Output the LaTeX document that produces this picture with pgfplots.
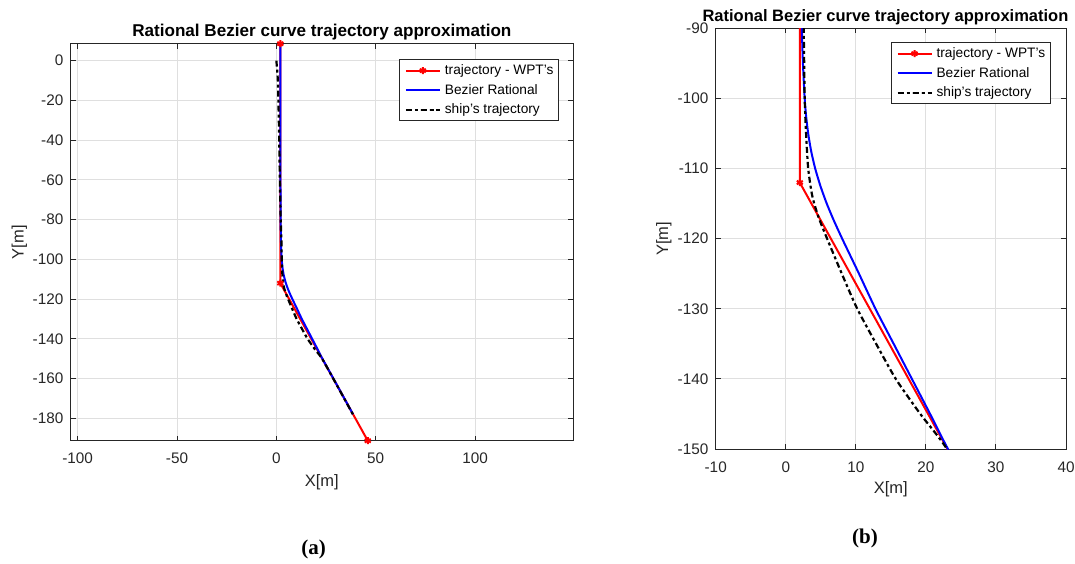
\documentclass[border=0pt]{standalone}
\usepackage{fontspec}
\setmainfont{Liberation Sans}
\newfontfamily\capfont{Liberation Serif}
\usepackage{pgfplots}
\usepackage{pgfplotstable}
\pgfplotsset{compat=1.18}

\definecolor{axgray}{HTML}{262626}
\definecolor{gridgray}{HTML}{DFDFDF}

% waypoints
\pgfplotstableread{
x y
2 8.5
2 -112
46 -191.3
}\wpt

% rational Bezier curve
\pgfplotstableread{
x y
2.0 8.5
2.05 -50
2.15 -80
2.3 -90
2.45 -95
2.7 -100
2.9 -102.5
3.2 -105
3.62 -107.5
4.2 -110
4.95 -112.5
5.85 -115
6.9 -117.5
8.05 -120
9.25 -122.5
10.45 -125
12.8 -130
15.4 -135
18.0 -140
20.6 -145
23.15 -150
28.7 -160
34.2 -170
38.6 -178
}\bez

% ship's trajectory
\pgfplotstableread{
x y
0 0
0.8 -11
1.35 -36
1.75 -60
2.2 -80
2.55 -90
2.7 -100
2.9 -105
3.2 -110
3.8 -114
4.7 -117
5.9 -120
8.0 -125
10.2 -130
12.9 -135
15.7 -140
19.2 -145
23.0 -150
28.6 -160
34.1 -170
38.5 -178
}\ship

\pgfplotsset{
  every axis title/.style={anchor=base},
  mat/.style={
    scale only axis,
    axis line style={axgray, line width=0.5pt},
    every tick/.style={axgray, line width=0.5pt},
    major tick length=2.5pt,
    tick align=inside,
    grid=major,
    major grid style={gridgray, line width=0.5pt},
    tick label style={font=\fontsize{7.65}{9}\selectfont, text=axgray},
    /pgf/number format/assume math mode=true,
    xticklabel style={inner sep=0pt, yshift=-6pt},
    yticklabel style={inner sep=0pt, xshift=-3.5pt},
    label style={font=\fontsize{8.25}{10}\selectfont, text=axgray},
    xlabel={X[m]}, ylabel={Y[m]},
    title={Rational Bezier curve trajectory approximation},
    legend cell align=left,
    legend image code/.code={\draw[mark repeat=2,mark phase=2,#1] plot coordinates {(0pt,0pt) (8.5pt,0pt) (17pt,0pt)};},
    legend style={draw=axgray, line width=0.5pt, fill=white, anchor=north east,
      font=\fontsize{6.85}{8}\selectfont, inner xsep=2.5pt, inner ysep=2.05pt,
      nodes={inner sep=0pt, text height=5.2pt, text depth=1.5pt},
      row sep=3.15pt,
      /tikz/every odd column/.append style={column sep=2pt}},
  },
  wp/.style={red, line width=1pt, mark=asterisk, mark size=1.75pt, mark options={solid}},
  bz/.style={blue, line width=1pt, no marks, smooth, tension=0.4},
  sh/.style={black, line width=1.1pt, no marks, smooth, tension=0.4,
    dash pattern=on 3pt off 1.5pt on 1.5pt off 1.5pt},
}

\begin{document}
\begin{tikzpicture}
\useasboundingbox (0,0) rectangle (537.5pt,281.5pt);

\begin{axis}[mat,
  at={(35.35pt,61.15pt)}, anchor=south west,
  width=251.15pt, height=198.6pt,
  xmin=-103.5, xmax=149.3, ymin=-191.3, ymax=8.6,
  xtick={-100,-50,0,50,100},
  ytick={-180,-160,...,0},
  title style={at={(axis description cs:0.5,1.0186)}, font=\bfseries\fontsize{8.55}{10}\selectfont},
  xlabel style={at={(axis description cs:0.5,-0.1158)}, anchor=base},
  ylabel style={at={(axis description cs:-0.0936,0.5)}, anchor=base},
  legend style={at={(0.9721,0.9602)}},
]
\addplot[wp] table {\wpt};
\addplot[bz] table {\bez};
\addplot[sh] table {\ship};
\legend{trajectory - WPT's, Bezier Rational, ship's trajectory}
\end{axis}

\begin{axis}[mat,
  at={(357.85pt,57pt)}, anchor=south west,
  width=175.15pt, height=210.35pt,
  xmin=-10, xmax=40, ymin=-150, ymax=-90,
  xtick={-10,0,...,40},
  ytick={-150,-140,...,-90},
  title style={at={(axis description cs:0.4847,1.01735)}, font=\bfseries\fontsize{8.25}{10}\selectfont},
  xlabel style={at={(axis description cs:0.5,-0.1058)}, anchor=base},
  ylabel style={at={(axis description cs:-0.136,0.5)}, anchor=base},
  legend style={at={(0.9563,0.9667)}},
]
\addplot[wp] table {\wpt};
\addplot[bz] table {\bez};
\addplot[sh] table {\ship};
\legend{trajectory - WPT's, Bezier Rational, ship's trajectory}
\end{axis}

\node[font=\capfont\bfseries\fontsize{10.5}{12}\selectfont] at (156.8pt,7pt) {(a)};
\node[font=\capfont\bfseries\fontsize{10.5}{12}\selectfont] at (432.5pt,12.1pt) {(b)};
\end{tikzpicture}
\end{document}
